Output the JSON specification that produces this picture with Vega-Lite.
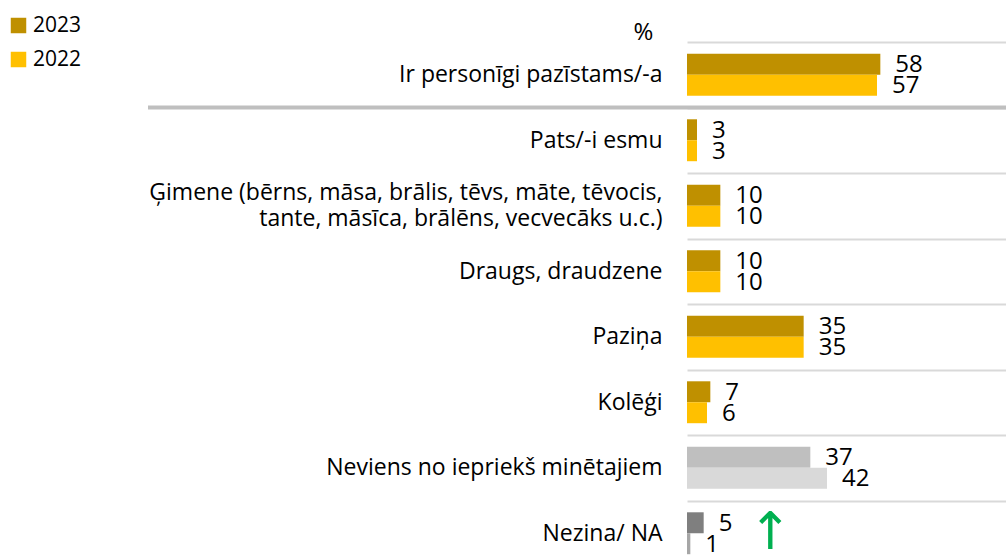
{
  "$schema": "https://vega.github.io/schema/vega-lite/v6.json",
  "autosize": {"type": "none"},
  "padding": {"left": 687, "top": 42, "right": 0, "bottom": 0},
  "width": 320,
  "height": 524,
  "background": "white",
  "config": {
    "view": {"stroke": null},
    "font": "Open Sans"
  },
  "data": {
    "values": [
      {"cat": "Ir personīgi pazīstams/-a", "year": "2023", "value": 58},
      {"cat": "Ir personīgi pazīstams/-a", "year": "2022", "value": 57},
      {"cat": "Pats/-i esmu", "year": "2023", "value": 3},
      {"cat": "Pats/-i esmu", "year": "2022", "value": 3},
      {"cat": "Ģimene (bērns, māsa, brālis, tēvs, māte, tēvocis,|tante, māsīca, brālēns, vecvecāks u.c.)", "year": "2023", "value": 10},
      {"cat": "Ģimene (bērns, māsa, brālis, tēvs, māte, tēvocis,|tante, māsīca, brālēns, vecvecāks u.c.)", "year": "2022", "value": 10},
      {"cat": "Draugs, draudzene", "year": "2023", "value": 10},
      {"cat": "Draugs, draudzene", "year": "2022", "value": 10},
      {"cat": "Paziņa", "year": "2023", "value": 35},
      {"cat": "Paziņa", "year": "2022", "value": 35},
      {"cat": "Kolēģi", "year": "2023", "value": 7},
      {"cat": "Kolēģi", "year": "2022", "value": 6},
      {"cat": "Neviens no iepriekš minētajiem", "year": "2023", "value": 37},
      {"cat": "Neviens no iepriekš minētajiem", "year": "2022", "value": 42},
      {"cat": "Nezina/ NA", "year": "2023", "value": 5},
      {"cat": "Nezina/ NA", "year": "2022", "value": 1}
    ]
  },
  "resolve": {"scale": {"color": "independent"}},
  "layer": [
    {
      "transform": [{"filter": "datum.cat !== 'Neviens no iepriekš minētajiem' && datum.cat !== 'Nezina/ NA'"}],
      "mark": {"type": "bar"},
      "encoding": {
        "y": {
          "field": "cat",
          "type": "nominal",
          "sort": null,
          "scale": {
            "domain": [
              "Ir personīgi pazīstams/-a",
              "Pats/-i esmu",
              "Ģimene (bērns, māsa, brālis, tēvs, māte, tēvocis,|tante, māsīca, brālēns, vecvecāks u.c.)",
              "Draugs, draudzene",
              "Paziņa",
              "Kolēģi",
              "Neviens no iepriekš minētajiem",
              "Nezina/ NA"
            ],
            "paddingInner": 0.36,
            "paddingOuter": 0.18
          },
          "axis": {
            "title": "%",
            "titleAngle": 0,
            "titleX": -44,
            "titleY": -10,
            "titleAlign": "center",
            "titleBaseline": "middle",
            "titleFontSize": 24,
            "titleFontWeight": "normal",
            "titleColor": "#000000",
            "titleFont": "Open Sans",
            "labelExpr": "split(datum.label, '|')",
            "labelFontSize": 23,
            "labelFont": "Open Sans",
            "labelColor": "#000000",
            "labelPadding": 25,
            "labelLimit": 700,
            "labelLineHeight": 26,
            "bandPosition": 0,
            "tickOffset": -11.79,
            "labelOffset": {
              "condition": {"test": "indexof(datum.value, '|') >= 0", "value": -1.21},
              "value": 11.79
            },
            "ticks": false,
            "domain": false,
            "grid": true,
            "gridColor": "#D9D9D9",
            "gridWidth": 2
          }
        },
        "x": {
          "field": "value",
          "type": "quantitative",
          "scale": {"domain": [0, 96], "nice": false, "zero": true},
          "axis": null
        },
        "yOffset": {
          "field": "year",
          "type": "nominal",
          "scale": {"domain": ["2023", "2022"], "paddingInner": 0, "paddingOuter": 0}
        },
        "color": {
          "field": "year",
          "type": "nominal",
          "scale": {"domain": ["2023", "2022"], "range": ["#BF9000", "#FFC000"]},
          "legend": {
            "title": null,
            "orient": "none",
            "legendX": -679,
            "legendY": -27,
            "symbolType": "square",
            "symbolSize": 240,
            "symbolStrokeWidth": 0,
            "labelFontSize": 21,
            "labelFont": "Open Sans",
            "labelColor": "#000000",
            "labelOffset": 4,
            "rowPadding": 12
          }
        }
      }
    },
    {
      "transform": [{"filter": "datum.cat === 'Pats/-i esmu' && datum.year === '2023'"}],
      "mark": {"type": "rule", "color": "#BFBFBF", "strokeWidth": 4, "yOffset": -32.75},
      "encoding": {
        "y": {"field": "cat", "type": "nominal"},
        "x": {"datum": -161.7},
        "x2": {"datum": 96}
      }
    },
    {
      "transform": [{"filter": "datum.cat === 'Neviens no iepriekš minētajiem'"}],
      "mark": {"type": "bar"},
      "encoding": {
        "y": {"field": "cat", "type": "nominal"},
        "x": {"field": "value", "type": "quantitative"},
        "yOffset": {"field": "year", "type": "nominal"},
        "color": {
          "field": "year",
          "type": "nominal",
          "scale": {"domain": ["2023", "2022"], "range": ["#BFBFBF", "#D9D9D9"]},
          "legend": null
        }
      }
    },
    {
      "transform": [{"filter": "datum.cat === 'Nezina/ NA'"}],
      "mark": {"type": "bar"},
      "encoding": {
        "y": {"field": "cat", "type": "nominal"},
        "x": {"field": "value", "type": "quantitative"},
        "yOffset": {"field": "year", "type": "nominal"},
        "color": {
          "field": "year",
          "type": "nominal",
          "scale": {"domain": ["2023", "2022"], "range": ["#7F7F7F", "#A6A6A6"]},
          "legend": null
        }
      }
    },
    {
      "mark": {"type": "text", "align": "left", "baseline": "middle", "dx": 15, "dy": 1, "fontSize": 24, "font": "Open Sans", "color": "#000000"},
      "encoding": {
        "y": {"field": "cat", "type": "nominal"},
        "x": {"field": "value", "type": "quantitative"},
        "yOffset": {"field": "year", "type": "nominal"},
        "text": {"field": "value", "type": "quantitative"}
      }
    },
    {
      "transform": [{"filter": "datum.cat === 'Nezina/ NA' && datum.year === '2023'"}],
      "mark": {"type": "text", "align": "center", "baseline": "middle", "fontSize": 52, "font": "DejaVu Sans", "color": "#00B050"},
      "encoding": {
        "y": {"field": "cat", "type": "nominal"},
        "x": {"datum": 25},
        "text": {"value": "↑"}
      }
    }
  ]
}
